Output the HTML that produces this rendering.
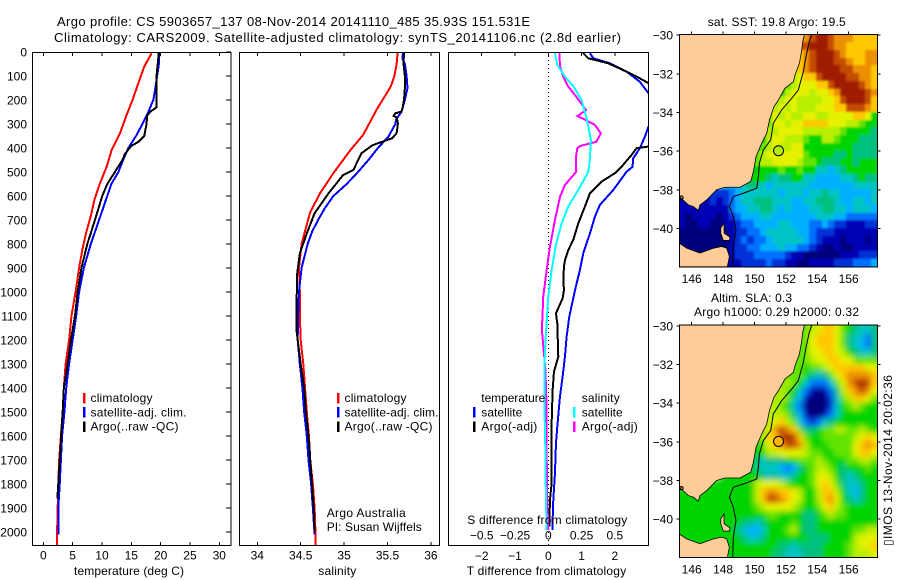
<!DOCTYPE html>
<html lang="en">
<head>
<meta charset="utf-8">
<title>Argo profile 5903657_137</title>
<style>
html,body{margin:0;padding:0;background:#fff;}
svg{display:block;}
text{font-family:"Liberation Sans",sans-serif;font-size:12px;fill:#000;}
</style>
</head>
<body>
<svg id="fig" width="900" height="580" viewBox="0 0 900 580" xmlns="http://www.w3.org/2000/svg">
<defs>
<clipPath id="clip-temp"><rect x="32" y="52" width="199" height="494"/></clipPath>
<clipPath id="clip-sal"><rect x="239.5" y="52" width="200" height="494"/></clipPath>
<clipPath id="clip-diff"><rect x="448.5" y="52" width="200" height="494"/></clipPath>
<clipPath id="clip-map1"><rect x="679.3" y="34.3" width="198" height="232.7"/></clipPath>
<clipPath id="clip-map2"><rect x="679.3" y="325" width="198" height="232.5"/></clipPath>
<filter id="soften-sst" filterUnits="userSpaceOnUse" x="640" y="0" width="260" height="300"><feGaussianBlur stdDeviation="1.1"/></filter>
<filter id="soften-sla" filterUnits="userSpaceOnUse" x="640" y="290" width="260" height="290"><feGaussianBlur stdDeviation="3"/></filter>
</defs>
<g id="layer-marks"></g>
<text x="57" y="26" style="font-size:13px" textLength="473" lengthAdjust="spacing">Argo profile: CS 5903657_137 08-Nov-2014 20141110_485 35.93S 151.531E</text>
<text x="54" y="42" style="font-size:13px" textLength="567" lengthAdjust="spacing">Climatology: CARS2009. Satellite-adjusted climatology: synTS_20141106.nc (2.8d earlier)</text>
<text x="74" y="575" textLength="110" lengthAdjust="spacing">temperature (deg C)</text>
<text x="318.3" y="575" textLength="38" lengthAdjust="spacing">salinity</text>
<text x="466.7" y="575" textLength="159.5" lengthAdjust="spacing">T difference from climatology</text>
<text x="467.3" y="524" textLength="160" lengthAdjust="spacing">S difference from climatology</text>
<g>
<rect x="83" y="393" width="2.5" height="10.5" fill="#ff0000"/>
<rect x="83" y="407" width="2.5" height="10.5" fill="#0000ff"/>
<rect x="83" y="421.5" width="2.5" height="10.5" fill="#000"/>
<text x="90.5" y="402" textLength="62" lengthAdjust="spacing">climatology</text>
<text x="90.5" y="416.5" textLength="96" lengthAdjust="spacing">satellite-adj. clim.</text>
<text x="90.5" y="430.5" textLength="88" lengthAdjust="spacing">Argo(..raw -QC)</text>
</g>
<g>
<rect x="337" y="393" width="2.5" height="10.5" fill="#ff0000"/>
<rect x="337" y="407" width="2.5" height="10.5" fill="#0000ff"/>
<rect x="337" y="421.5" width="2.5" height="10.5" fill="#000"/>
<text x="344.5" y="402" textLength="62" lengthAdjust="spacing">climatology</text>
<text x="344.5" y="416.5" textLength="94" lengthAdjust="spacing">satellite-adj. clim.</text>
<text x="344.5" y="430.5" textLength="88" lengthAdjust="spacing">Argo(..raw -QC)</text>
</g>
<text x="326.7" y="517" textLength="79" lengthAdjust="spacing">Argo Australia</text>
<text x="326.7" y="531" textLength="95" lengthAdjust="spacing">PI: Susan Wijffels</text>
<g>
<text x="481.3" y="402" textLength="64" lengthAdjust="spacing">temperature</text>
<rect x="473" y="407" width="2.5" height="10.5" fill="#0000ff"/>
<text x="481.3" y="416.5" textLength="41" lengthAdjust="spacing">satellite</text>
<rect x="473" y="421.5" width="2.5" height="10.5" fill="#000"/>
<text x="481.3" y="430.5" textLength="56" lengthAdjust="spacing">Argo(-adj)</text>
<text x="581.7" y="402" textLength="38" lengthAdjust="spacing">salinity</text>
<rect x="573" y="407" width="2.5" height="10.5" fill="#00ffff"/>
<text x="581.7" y="416.5" textLength="41" lengthAdjust="spacing">satellite</text>
<rect x="573" y="421.5" width="2.5" height="10.5" fill="#ff00ff"/>
<text x="581.7" y="430.5" textLength="56" lengthAdjust="spacing">Argo(-adj)</text>
</g>
<text x="707.7" y="26" textLength="138" lengthAdjust="spacing">sat. SST: 19.8 Argo: 19.5</text>
<text x="711" y="302" textLength="81" lengthAdjust="spacing">Altim. SLA: 0.3</text>
<text x="694" y="316" textLength="165" lengthAdjust="spacing">Argo h1000: 0.29 h2000: 0.32</text>
<text transform="translate(892,546) rotate(-90)" textLength="171" lengthAdjust="spacing">&#9647;IMOS 13-Nov-2014 20:02:36</text>
</svg>
<script>
// ---------- axis ticks ----------
const depthTicks = [0,100,200,300,400,500,600,700,800,900,1000,1100,1200,1300,1400,1500,1600,1700,1800,1900,2000];
const tempTicks = [0,5,10,15,20,25,30];
const salTicks = [34,34.5,35,35.5,36];
const salTickLabels = ["34","34.5","35","35.5","36"];
const tDiffTicks = [-2,-1,0,1,2];
const tDiffTickLabels = ["\u22122","\u22121","0","1","2"];
const sDiffTicks = [-0.5,-0.25,0,0.25,0.5];
const sDiffTickLabels = ["\u22120.5","\u22120.25","0","0.25","0.5"];
const lonTicks = [146,148,150,152,154,156];
const latTicks = [-30,-32,-34,-36,-38,-40];

// ---------- temperature profiles ----------
const climTempDepth = [5,61,130,200,269,339,408,478,547,617,686,756,825,894,1000,1100,1200,1300,1400,1500,1600,1700,1800,1900,2000,2057];
const climTemp = [18.46,17.2,16.2,15.2,14.1,13.07,11.65,10.8,9.66,8.7,8.07,7.27,6.65,6.14,5.5,4.8,4.4,3.8,3.5,3.3,3.0,2.7,2.55,2.45,2.35,2.35];
const satTempDepth = [0,50,100,150,200,250,300,350,400,450,500,550,600,700,800,900,1000,1100,1200,1300,1400,1500,1600,1700,1800,1900,2010];
const satTemp = [19.8,19.7,19.4,19.1,18.75,17.9,16.9,15.8,14.5,13.6,12.8,11.6,10.9,9.5,8.1,6.9,6.1,5.6,5.0,4.4,3.9,3.6,3.2,3.0,2.8,2.55,2.55];
const argoTempDepth = [0,100,200,230,250,265,300,350,375,390,425,450,500,550,600,700,800,900,1000,1100,1200,1300,1400,1500,1600,1700,1800,1860];
const argoTemp = [19.7,19.3,19.3,19.3,18.2,17.7,17.6,17.2,16.2,15.05,13.9,13.5,12.2,10.9,10.05,8.8,7.5,6.5,5.85,5.4,4.7,4.15,3.5,3.3,3.05,2.8,2.55,2.4];

// ---------- salinity profiles ----------
const climSalDepth = [0,50,100,145,240,345,410,505,590,670,800,900,1000,1100,1200,1300,1400,1500,1600,1700,1800,1900,2000,2057];
const climSal = [35.617,35.605,35.58,35.536,35.375,35.22,35.07,34.876,34.72,34.607,34.51,34.48,34.49,34.49,34.5,34.53,34.55,34.57,34.595,34.61,34.64,34.66,34.67,34.67];
const satSalDepth = [0,25,50,100,150,200,250,280,300,353,400,450,500,550,600,650,700,750,800,900,1000,1100,1200,1300,1400,1500,1600,1700,1800,1900,2010];
const satSal = [35.68,35.67,35.70,35.72,35.73,35.70,35.66,35.60,35.59,35.51,35.39,35.28,35.16,35.03,34.876,34.78,34.70,34.63,34.58,34.51,34.48,34.47,34.465,34.49,34.52,34.54,34.57,34.59,34.62,34.64,34.66];
const argoSalDepth = [0,50,100,150,200,240,249,255,267,272,297,339,360,380,390,422,492,512,589,672,756,839,922,1033,1100,1165,1300,1400,1500,1600,1700,1800,1900,2000];
const argoSal = [35.69,35.685,35.70,35.70,35.69,35.67,35.66,35.59,35.57,35.605,35.62,35.605,35.55,35.39,35.32,35.20,35.106,34.99,34.82,34.66,34.57,34.49,34.46,34.453,34.453,34.453,34.50,34.54,34.56,34.59,34.61,34.63,34.65,34.66];

// ---------- difference profiles ----------
const satTDiffDepth = [5,26,47,82,124,172,242,311,353,401,443,478,499,575,637,686,756,839,908,964,1026,1103,1186,1269,1353,1436,1561,1631,1756,1867,1992];
const satTDiff = [1.25,1.35,1.85,2.35,2.75,3.01,3.25,3.01,2.9,2.75,2.55,2.53,2.35,1.95,1.55,1.4,1.25,1.05,0.95,0.85,0.75,0.63,0.55,0.5,0.43,0.35,0.27,0.23,0.2,0.15,0.12];
const argoTDiffDepth = [5,26,47,82,110,130,186,300,394,401,429,478,505,540,589,644,714,783,825,867,894,950,992,1026,1089,1131,1269,1332,1408,1547,1686,1797,1867,1978];
const argoTDiff = [1.05,1.2,1.8,2.35,2.75,3.01,3.35,3.35,3.01,2.65,2.5,2.2,2.0,1.6,1.25,1.1,0.9,0.75,0.6,0.5,0.47,0.45,0.47,0.43,0.23,0.27,0.3,0.17,0.13,0.1,0.1,0.1,0.05,0.03];
const satSDiffDepth = [5,54,103,144,200,283,367,464,499,561,644,714,797,908,1019,1172,1311,1450,1658,1867,1992];
const satSDiff = [0.05,0.068,0.125,0.19,0.25,0.29,0.32,0.31,0.30,0.24,0.15,0.10,0.06,0.025,0,-0.018,-0.03,-0.03,-0.022,-0.018,-0.012];
const argoSDiffDepth = [5,61,110,144,186,242,255,267,280,304,339,374,392,401,436,499,554,603,700,811,908,1019,1158,1325,1436,1558,1692,1858,1992];
const argoSDiff = [0.083,0.088,0.118,0.15,0.21,0.283,0.25,0.218,0.268,0.35,0.395,0.36,0.238,0.218,0.208,0.21,0.125,0.088,0.05,0.0125,-0.012,-0.038,-0.048,-0.022,-0.015,-0.012,-0.012,-0.008,0];

// ---------- map grids (colour levels, 0 = coldest/lowest ... 14 = warmest/highest) ----------
const firstWaterCol = [20,20,19,19,18,18,17,16,15,14,14,14,13,12,11,11,10,10,10,9,5,0,0,0,0,0,0,0,0,0];
const sstLevels = [
[12,13,14,14,13,12,12,12,11,11,11,11],
[13,14,14,14,13,12,12,11,11,11,11,11],
[11,12,13,14,14,14,13,12,11,11,11,12,12],
[11,12,13,14,14,14,13,13,12,11,11,12,12],
[10,11,12,13,14,14,14,14,13,13,12,12,12,11],
[9,10,11,11,13,14,14,14,14,13,13,12,12,11],
[8,9,10,10,10,11,11,13,14,14,14,14,13,12,11],
[7,9,10,10,10,9,10,10,11,12,14,14,14,14,13,12],
[7,9,10,10,9,9,9,9,10,10,11,13,14,14,14,13,11],
[7,9,10,9,10,9,9,9,10,10,10,11,11,13,13,13,12,11],
[8,10,9,10,9,9,10,10,9,9,10,10,10,10,11,11,10,7],
[8,10,10,9,10,10,11,11,11,11,10,10,10,9,9,8,7,7],
[7,9,9,10,10,10,10,9,9,9,9,9,9,8,7,7,7,7,6],
[7,7,9,10,10,9,9,9,8,7,7,9,9,8,7,7,7,6,6,6],
[7,7,8,9,10,9,9,10,10,7,7,7,7,7,7,7,7,6,6,6,6],
[7,8,9,10,10,10,10,10,10,8,7,7,7,7,6,6,7,6,6,6,6],
[7,7,8,9,9,10,10,10,10,9,8,8,7,6,6,6,7,7,6,7,7,7],
[7,7,7,7,7,7,8,7,7,8,7,7,5,5,4,5,6,7,7,7,7,7],
[6,7,7,7,6,5,6,6,7,7,5,5,4,4,4,4,5,5,6,7,6,6],
[4,5,6,6,5,4,5,5,5,5,5,5,4,4,4,4,4,4,4,5,5,5,5],
[2,2,2,3,4,5,5,5,5,5,5,4,5,5,5,4,5,5,6,5,5,4,4,4,4,4,5],
[1,1,1,1,1,2,1,2,3,4,5,5,6,6,6,5,5,5,4,4,5,5,6,6,6,5,4,4,5,5,4,5],
[1,1,1,1,1,1,1,1,3,4,4,5,5,6,6,5,4,5,4,4,4,5,5,6,6,5,5,4,5,5,5,4],
[1,0,1,1,1,1,0,1,2,3,4,4,4,5,5,4,4,4,4,4,4,4,5,5,5,4,4,3,3,3,3,3],
[1,0,0,1,1,0,0,1,1,2,3,3,4,4,4,4,5,5,4,4,4,3,3,4,3,2,2,1,1,1,2,2],
[0,0,0,0,0,0,0,0,1,2,2,3,3,4,5,5,5,5,5,4,4,3,2,2,2,1,1,1,1,1,1,1],
[0,0,0,0,0,0,0,0,1,2,3,2,3,3,4,5,5,5,5,5,4,3,2,1,1,1,0,1,1,1,0,1],
[0,0,0,0,0,0,0,0,1,2,2,3,3,4,4,4,5,4,4,3,3,2,1,0,0,1,0,0,1,1,1,1],
[0,0,0,0,0,0,0,0,1,2,2,2,3,3,3,3,3,2,1,1,0,0,0,0,0,0,1,1,1,2,2,2],
[0,0,0,0,0,0,0,0,1,1,2,2,2,2,3,2,2,1,1,0,0,1,1,1,1,2,2,2,3,3,3,4]
];
const slaLevels = [
[8,9,10,11,11,10,8,7,6,5,5,6],
[8,10,11,11,11,10,8,6,5,5,3,6],
[8,8,10,11,11,11,10,8,6,5,4,3,6],
[8,8,10,10,11,11,10,9,7,6,5,5,6],
[8,8,8,9,10,10,11,11,10,10,8,8,8,8],
[8,8,7,8,8,9,10,11,11,11,11,11,10,10],
[8,8,8,7,6,5,6,8,10,11,12,12,12,12,11],
[8,9,8,7,5,3,3,3,5,8,10,12,13,14,13,11],
[8,9,8,7,5,3,1,0,1,3,6,9,11,12,13,12,10],
[8,9,9,8,6,4,1,0,0,0,2,5,8,9,11,11,10,8],
[9,9,8,7,5,3,0,0,0,0,2,5,7,8,9,8,7,7],
[9,9,9,8,6,4,1,0,0,1,3,5,7,7,7,7,7,7],
[9,9,10,11,9,8,5,3,2,3,5,6,7,7,7,7,7,7,7],
[7,8,10,12,13,12,11,8,6,6,7,8,8,9,9,8,8,9,8,7],
[8,7,9,11,11,13,14,13,11,8,7,7,8,8,8,8,8,9,10,11,10],
[7,7,8,10,11,12,13,13,12,9,7,7,7,8,8,8,8,10,11,12,11],
[7,7,7,7,9,9,10,10,10,10,9,8,8,7,7,8,8,8,10,11,11,10],
[7,7,6,5,6,6,6,7,7,8,8,8,9,8,7,7,7,8,8,9,9,8],
[7,7,6,5,5,5,4,3,4,6,7,8,9,9,8,7,6,7,7,7,8,7],
[7,7,7,7,6,5,6,5,5,6,7,7,8,10,10,9,7,6,5,6,7,7,7],
[7,7,7,7,7,7,7,9,10,10,10,9,8,7,7,7,8,10,11,10,8,6,5,5,6,7,7],
[7,7,7,7,7,7,7,7,7,7,7,7,9,11,12,12,11,11,10,9,7,7,9,11,11,9,7,5,4,6,7,7],
[7,7,7,7,7,7,7,7,7,7,7,7,9,11,13,13,12,11,10,9,7,7,9,11,12,10,7,6,5,6,7,7],
[7,7,7,7,7,7,7,7,7,7,7,7,8,9,10,10,10,10,9,8,7,7,8,10,11,9,8,7,7,7,7,7],
[7,7,7,7,7,7,7,7,7,7,7,7,7,7,8,8,7,7,7,7,6,6,7,8,9,8,8,7,7,7,7,7],
[7,7,7,7,7,7,7,7,7,7,6,6,5,6,7,7,7,7,8,7,6,6,7,7,7,7,7,7,7,7,7,7],
[7,7,7,7,7,7,7,7,7,6,5,4,4,5,7,7,7,8,9,7,6,6,7,7,7,7,7,7,8,8,9,9],
[7,7,7,7,7,7,7,7,7,7,6,5,5,6,7,7,7,7,7,7,7,6,6,6,7,7,7,7,9,10,10,10],
[7,7,7,7,7,7,7,7,7,7,7,7,7,7,7,7,6,6,5,6,6,6,6,7,7,7,7,8,9,10,10,11],
[7,7,7,7,7,7,7,7,7,7,7,7,7,7,7,6,6,5,5,5,6,6,6,7,7,7,7,8,9,9,9,10]
];
const levelColors = ["#00007c","#0000b4","#0030d8","#0070ff","#00b0ff","#00c4c4","#00c080","#00d400","#60e400","#b8ee00","#e4f200","#ffc800","#ec9000","#c44c00","#a01c00"];

// ---------- geography (lon, lat) ----------
const argoLon = 151.531;
const argoLat = -35.98;
const coastLon = [145.21,153.18,153.07,153.01,152.86,152.58,152.48,151.94,151.52,151.24,150.95,150.78,150.46,150.10,149.93,149.76,149.08,148.12,147.59,146.96,146.53,146.42,146.10,145.79,145.21];
const coastLat = [-29.96,-29.96,-30.34,-30.77,-31.46,-32.07,-32.41,-32.75,-33.36,-33.70,-34.39,-35.08,-35.59,-36.28,-37.06,-37.57,-37.87,-37.87,-38.00,-38.52,-38.78,-39.07,-38.86,-38.78,-38.35];
const tasLon = [145.21,145.68,146.53,147.38,147.91,148.23,148.40,148.27,145.21];
const tasLat = [-40.76,-41.02,-41.27,-41.02,-40.93,-41.02,-41.45,-41.98,-41.98];
const flindersLon = [147.85,148.06,148.06,148.44,148.40,148.02,147.85];
const flindersLat = [-39.98,-39.72,-40.24,-40.45,-40.62,-40.62,-40.24];
const isobathLon = [153.64,153.49,153.28,153.11,152.79,152.37,151.73,151.20,151.03,150.56,150.31,150.25,150.14,149.29,148.65,148.40,148.65,148.82,148.65,148.61];
const isobathLat = [-29.97,-30.34,-31.12,-31.89,-32.84,-33.27,-33.87,-34.56,-35.42,-35.94,-36.63,-37.31,-37.92,-38.18,-38.35,-38.86,-39.38,-40.07,-40.93,-41.98];
const bayLon = 145.35;
const bayLat = -38.4;

// ---------- scales ----------
const SVGNS = "http://www.w3.org/2000/svg";
const layer = document.getElementById("layer-marks");
const depthY = d => 52 + d * 0.24;
const tempX = t => 43.3 + t * 5.867;
const salX = s => 257.3 + (s - 34) * 86.8;
const tDiffX = t => 548.3 + t * 33.3;
const sDiffX = s => 548.3 + s * 133.2;
const lonX = lon => 679.3 + (lon - 145.21) * 15.7;
const latY = (lat, top) => top + (-29.96 - lat) * 19.34;

function pointsOf(xs, ys, fx, fy) {
  return xs.map((v, i) => fx(v).toFixed(2) + "," + fy(ys[i]).toFixed(2)).join(" ");
}
function drawProfile(name, depths, values, xScale, color, clip, width) {
  const el = document.createElementNS(SVGNS, "polyline");
  
  
  el.setAttribute("points", pointsOf(values, depths, xScale, depthY));
  el.setAttribute("fill", "none");
  el.setAttribute("stroke", color);
  el.setAttribute("stroke-width", width);
  el.setAttribute("shape-rendering", "crispEdges");
  el.setAttribute("clip-path", "url(#" + clip + ")");
  layer.appendChild(el);
}
function drawLine(name, x1, y1, x2, y2, width, dash) {
  const el = document.createElementNS(SVGNS, "line");
  
  
  el.setAttribute("x1", x1);
  el.setAttribute("y1", y1);
  el.setAttribute("x2", x2);
  el.setAttribute("y2", y2);
  el.setAttribute("stroke", "#000");
  el.setAttribute("stroke-width", width || 1);
  el.setAttribute("shape-rendering", "crispEdges");
  if (dash) el.setAttribute("stroke-dasharray", dash);
  layer.appendChild(el);
}
function drawLabel(name, x, y, anchor, content) {
  const el = document.createElementNS(SVGNS, "text");
  
  
  el.setAttribute("x", x);
  el.setAttribute("y", y);
  el.setAttribute("text-anchor", anchor);
  el.textContent = content;
  layer.appendChild(el);
}
function drawFrame(name, x, y, w, h) {
  const el = document.createElementNS(SVGNS, "rect");
  
  
  el.setAttribute("x", x);
  el.setAttribute("y", y);
  el.setAttribute("width", w);
  el.setAttribute("height", h);
  el.setAttribute("fill", "none");
  el.setAttribute("stroke", "#000");
  el.setAttribute("stroke-width", 1);
  el.setAttribute("shape-rendering", "crispEdges");
  layer.appendChild(el);
}
function drawPoly(name, lons, lats, top, fill, stroke, clip) {
  const el = document.createElementNS(SVGNS, "polygon");
  
  
  el.setAttribute("points", pointsOf(lons, lats, lonX, v => latY(v, top)));
  el.setAttribute("fill", fill);
  el.setAttribute("stroke", stroke);
  el.setAttribute("stroke-width", 0.8);
  el.setAttribute("clip-path", "url(#" + clip + ")");
  layer.appendChild(el);
}
function drawMap(prefix, levels, top, clip, softenFilter, coastStroke, markerColor) {
  const dLon = (157.83 - 145.21) / 32;
  const dLat = (41.98 - 29.96) / 30;
  const grid = document.createElementNS(SVGNS, "g");
  
  
  grid.setAttribute("filter", "url(#" + softenFilter + ")");
  grid.setAttribute("clip-path", "url(#" + clip + ")");
  layer.appendChild(grid);
  levels.forEach((row, r) => {
    row.forEach((level, i) => {
      const c = firstWaterCol[r] + i;
      let x0 = Math.round(lonX(145.21 + c * dLon));
      let x1 = Math.round(lonX(145.21 + (c + 1) * dLon));
      let y0 = Math.round(latY(-29.96 - r * dLat, top));
      let y1 = Math.round(latY(-29.96 - (r + 1) * dLat, top));
      if (i === 0) x0 -= 14;
      if (c === 31) x1 += 14;
      if (r === 0) y0 -= 14;
      if (r === levels.length - 1) y1 += 14;
      const cell = document.createElementNS(SVGNS, "rect");
      
      
      cell.setAttribute("x", x0);
      cell.setAttribute("y", y0);
      cell.setAttribute("width", x1 - x0);
      cell.setAttribute("height", y1 - y0);
      cell.setAttribute("fill", levelColors[level]);
      grid.appendChild(cell);
    });
  });
  drawPoly(prefix + "-mainland", coastLon, coastLat, top, "#ffcc99", coastStroke, clip);
  drawPoly(prefix + "-tasmania", tasLon, tasLat, top, "#ffcc99", coastStroke, clip);
  drawPoly(prefix + "-flinders-island", flindersLon, flindersLat, top, "#ffcc99", coastStroke, clip);
  const iso = document.createElementNS(SVGNS, "polyline");
  
  
  iso.setAttribute("points", pointsOf(isobathLon, isobathLat, lonX, v => latY(v, top)));
  iso.setAttribute("fill", "none");
  iso.setAttribute("stroke", "#000");
  iso.setAttribute("stroke-width", 1);
  iso.setAttribute("clip-path", "url(#" + clip + ")");
  layer.appendChild(iso);
  const bay = document.createElementNS(SVGNS, "circle");
  
  
  bay.setAttribute("cx", lonX(bayLon));
  bay.setAttribute("cy", latY(bayLat, top));
  bay.setAttribute("r", 1.6);
  bay.setAttribute("fill", "none");
  bay.setAttribute("stroke", "#000");
  bay.setAttribute("stroke-width", 1.2);
  layer.appendChild(bay);
  const marker = document.createElementNS(SVGNS, "circle");
  
  
  marker.setAttribute("cx", lonX(argoLon));
  marker.setAttribute("cy", latY(argoLat, top));
  marker.setAttribute("r", 5);
  marker.setAttribute("fill", markerColor);
  marker.setAttribute("stroke", "#000");
  marker.setAttribute("stroke-width", 1);
  layer.appendChild(marker);
  const left = 679.3, right = 877.3, bottom = top + 232.5;
  drawFrame(prefix + "-frame", left, top, right - left, bottom - top);
  lonTicks.forEach(lon => {
    drawLine(prefix + "-top-tick", lonX(lon), top - 3, lonX(lon), top, 1);
    drawLabel(prefix + "-lon-label", lonX(lon), bottom + 16, "middle", String(lon));
  });
  latTicks.forEach(lat => {
    drawLine(prefix + "-right-tick", right, latY(lat, top), right + 3, latY(lat, top), 1);
    drawLine(prefix + "-left-tick", left - 3, latY(lat, top), left, latY(lat, top), 1);
    drawLabel(prefix + "-lat-label", 673, latY(lat, top) + 4.5, "end", "\u2212" + Math.abs(lat));
  });
}

// ---------- profile panels ----------
drawProfile("temperature-climatology-line", climTempDepth, climTemp, tempX, "#ff0000", "clip-temp", 2);
drawProfile("temperature-satellite-line", satTempDepth, satTemp, tempX, "#0000ff", "clip-temp", 2);
drawProfile("temperature-argo-line", argoTempDepth, argoTemp, tempX, "#000000", "clip-temp", 2);
drawProfile("salinity-climatology-line", climSalDepth, climSal, salX, "#ff0000", "clip-sal", 2);
drawProfile("salinity-satellite-line", satSalDepth, satSal, salX, "#0000ff", "clip-sal", 2);
drawProfile("salinity-argo-line", argoSalDepth, argoSal, salX, "#000000", "clip-sal", 2);
drawLine("zero-difference-line", 548.5, 52, 548.5, 546, 1, "1 3");
drawProfile("t-difference-satellite-line", satTDiffDepth, satTDiff, tDiffX, "#0000ff", "clip-diff", 2);
drawProfile("t-difference-argo-line", argoTDiffDepth, argoTDiff, tDiffX, "#000000", "clip-diff", 2);
drawProfile("s-difference-argo-line", argoSDiffDepth, argoSDiff, sDiffX, "#ff00ff", "clip-diff", 2);
drawProfile("s-difference-satellite-line", satSDiffDepth, satSDiff, sDiffX, "#00ffff", "clip-diff", 2);

drawFrame("temperature-panel-frame", 32.5, 52.5, 198.5, 493);
drawFrame("salinity-panel-frame", 239.5, 52.5, 200, 493);
drawFrame("difference-panel-frame", 448.5, 52.5, 200, 493);

depthTicks.forEach(d => {
  drawLabel("depth-label", 27, depthY(d) + 4.5, "end", String(d));
  drawLine("depth-tick", 226, depthY(d), 231, depthY(d), 1);
});
tempTicks.forEach(t => {
  drawLine("temperature-top-tick", tempX(t), 52, tempX(t), 56, 1);
  drawLine("temperature-bottom-tick", tempX(t), 542, tempX(t), 546, 1);
  drawLabel("temperature-tick-label", tempX(t), 559.5, "middle", String(t));
});
salTicks.forEach((s, i) => {
  drawLine("salinity-top-tick", salX(s), 52, salX(s), 56, 1);
  drawLine("salinity-bottom-tick", salX(s), 542, salX(s), 546, 1);
  drawLabel("salinity-tick-label", salX(s), 559.5, "middle", salTickLabels[i]);
});
tDiffTicks.forEach((t, i) => {
  drawLine("t-difference-top-tick", tDiffX(t), 52, tDiffX(t), 56, 1);
  drawLabel("t-difference-tick-label", tDiffX(t), 560, "middle", tDiffTickLabels[i]);
});
sDiffTicks.forEach((s, i) => {
  drawLabel("s-difference-tick-label", sDiffX(s), 539.5, "middle", sDiffTickLabels[i]);
});

// ---------- maps ----------
drawMap("sst-map", sstLevels, 34.3, "clip-map1", "soften-sst", "#000", "#b4ec00");
drawMap("sla-map", slaLevels, 325, "clip-map2", "soften-sla", "#000", "#ffb400");
</script>
</body>
</html>
